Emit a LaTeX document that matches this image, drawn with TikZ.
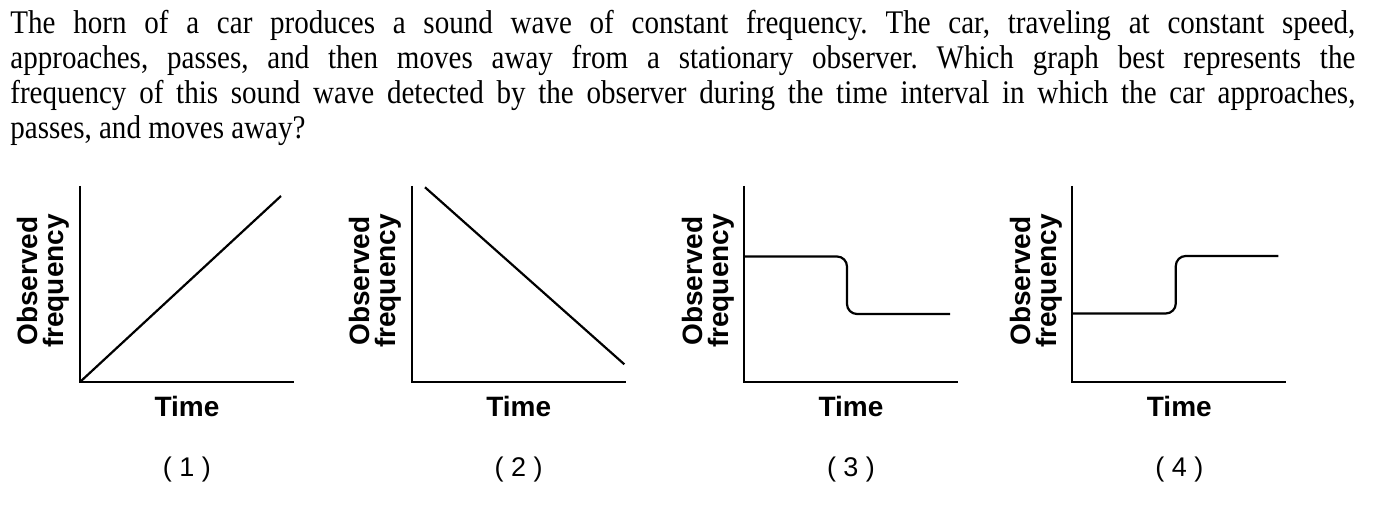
\documentclass[tikz,border=0pt]{standalone}
\usepackage{fontspec}
\usepackage{tikz}
\newfontfamily\questionfont[FakeStretch=0.88]{Liberation Serif}
\newfontfamily\graphfont{Liberation Sans}
\tikzset{questiontext/.style={font=\questionfont\fontsize{16.5}{17.5}\selectfont\frenchspacing, text width=672.5pt, align=justify, inner sep=0pt},
  axislabel/.style={font=\graphfont\bfseries\fontsize{14}{13}\selectfont, align=center, inner sep=0pt},
  answerlabel/.style={font=\graphfont\fontsize{13.5}{15}\selectfont, inner sep=0pt},
  graphline/.style={line width=1.1pt}}

\begin{document}
\begin{tikzpicture}[x=0.5pt, y=0.5pt]

\useasboundingbox (0,0) rectangle (1373,506);

% question
\node [style = questiontext, anchor=base west] (q) at (10,472.7) {The horn of a car produces a sound wave of constant frequency. The car, traveling at constant speed,\linebreak approaches, passes, and then moves away from a stationary observer. Which graph best represents the\linebreak frequency of this sound wave detected by the observer during the time interval in which the car approaches,\linebreak passes, and moves away?};

\begin{scope}[shift={(80,124)}]

  % nodes
  \coordinate (o) at (0,0);
  \coordinate (t) at (0,196);
  \coordinate (e) at (214,0);
  \coordinate (p) at (201,186);
  \node [style = axislabel, rotate=90] (f) at (-37,101) {Observed\\frequency};
  \node [style = axislabel, anchor=base] (x) at (107,-34.7) {Time};
  \node [style = answerlabel, anchor=base] (n) at (107,-94.7) {( 1 )};

  %  edges
  \draw [style = graphline] (t) -- (o) -- (e);
  \draw [style = graphline] (o) -- (p);

\end{scope}

\begin{scope}[shift={(411.7,124)}]

  % nodes
  \coordinate (o) at (0,0);
  \coordinate (t) at (0,196);
  \coordinate (e) at (214,0);
  \coordinate (a) at (13.3,194.7);
  \coordinate (b) at (212.6,17.7);
  \node [style = axislabel, rotate=90] (f) at (-36,101) {Observed\\frequency};
  \node [style = axislabel, anchor=base] (x) at (107,-34.7) {Time};
  \node [style = answerlabel, anchor=base] (n) at (107,-94.7) {( 2 )};

  %  edges
  \draw [style = graphline] (t) -- (o) -- (e);
  \draw [style = graphline] (a) -- (b);

\end{scope}

\begin{scope}[shift={(744,124)}]

  % nodes
  \coordinate (o) at (0,0);
  \coordinate (t) at (0,196);
  \coordinate (e) at (214,0);
  \coordinate (a) at (0,125.5);
  \coordinate (b) at (206,68);
  \node [style = axislabel, rotate=90] (f) at (-36,101) {Observed\\frequency};
  \node [style = axislabel, anchor=base] (x) at (107,-34.7) {Time};
  \node [style = answerlabel, anchor=base] (n) at (107,-94.7) {( 3 )};

  %  edges
  \draw [style = graphline] (t) -- (o) -- (e);
  \draw [style = graphline, rounded corners=5pt] (a) -- (103,125.5) -- (103,68) -- (b);

\end{scope}

\begin{scope}[shift={(1072.3,124)}]

  % nodes
  \coordinate (o) at (0,0);
  \coordinate (t) at (0,196);
  \coordinate (e) at (214,0);
  \coordinate (a) at (0,68.5);
  \coordinate (b) at (206,126);
  \node [style = axislabel, rotate=90] (f) at (-36,101) {Observed\\frequency};
  \node [style = axislabel, anchor=base] (x) at (107,-34.7) {Time};
  \node [style = answerlabel, anchor=base] (n) at (107,-94.7) {( 4 )};

  %  edges
  \draw [style = graphline] (t) -- (o) -- (e);
  \draw [style = graphline, rounded corners=5pt] (a) -- (103.5,68.5) -- (103.5,126) -- (b);

\end{scope}

\end{tikzpicture}
\end{document}
